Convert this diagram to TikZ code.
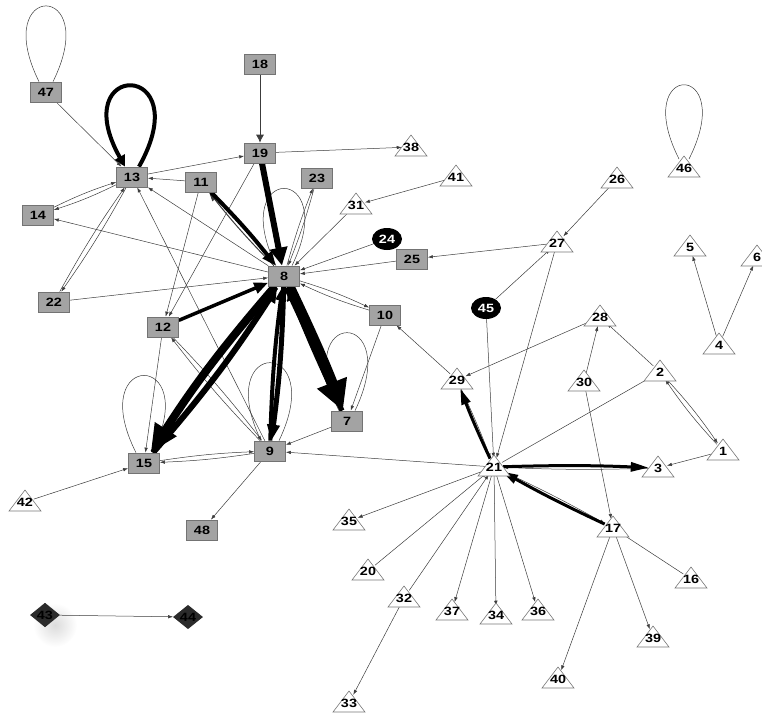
\documentclass[tikz,border=0pt]{standalone}
\usepackage{fontspec}
\newfontfamily\lblfont{Liberation Sans}[FakeStretch=1.2]
\usetikzlibrary{arrows.meta,shapes.geometric}
\pgfdeclarelayer{edgelayer}
\pgfdeclarelayer{trilayer}
\pgfsetlayers{edgelayer,trilayer,main}
\definecolor{sqfill}{RGB}{163,163,163}
\definecolor{sqdraw}{RGB}{115,115,115}
\definecolor{trdraw}{RGB}{120,120,120}
\definecolor{thin}{RGB}{60,60,60}
\begin{document}
\begin{tikzpicture}[x=1pt,y=-1pt,
  lbl/.style={font=\lblfont\bfseries\fontsize{12}{13}\selectfont},
  sq/.style={lbl,rectangle,draw=sqdraw,fill=sqfill,line width=0.7pt,minimum width=31pt,minimum height=20pt,inner sep=0pt},
  tri/.style={lbl,circle,minimum size=18pt,inner sep=0pt},
  trishape/.style={draw=trdraw,fill=white,line width=0.6pt,line join=miter},
  ell/.style={lbl,ellipse,fill=black,text=white,minimum width=30pt,minimum height=22pt,inner sep=0pt},
  dia/.style={lbl,diamond,fill=black!83,text=black,minimum width=30pt,minimum height=21pt,inner sep=0pt},
  edg/.style={draw=thin,line width=0.5pt,-{Latex[length=5pt,width=3.5pt]}},
  loopthin/.style={draw=thin,line width=0.5pt},
  heavy/.style={draw=black,line width=#1},
]
\useasboundingbox (0,0) rectangle (762,715);

% ---------- square nodes ----------
\node[sq] (47) at (46,92) {47};
\node[sq] (13) at (132,177) {13};
\node[sq] (14) at (38,215) {14};
\node[sq] (11) at (201,182) {11};
\node[sq] (18) at (260,64) {18};
\node[sq] (19) at (260,153) {19};
\node[sq] (23) at (317,178) {23};
\node[sq] (8) at (284,276) {8};
\node[sq] (22) at (54,302) {22};
\node[sq] (12) at (163,327) {12};
\node[sq] (25) at (412,259) {25};
\node[sq] (10) at (385,315) {10};
\node[sq] (7) at (347,421) {7};
\node[sq] (15) at (144,463) {15};
\node[sq] (9) at (270,451) {9};
\node[sq] (48) at (202,530) {48};

% ---------- triangle nodes ----------
\node[tri] (38) at (411,147) {38};
\node[tri] (41) at (456,177) {41};
\node[tri] (31) at (356,205) {31};
\node[tri] (26) at (617,179) {26};
\node[tri] (46) at (684,168) {46};
\node[tri] (27) at (557,243) {27};
\node[tri] (5) at (690,247) {5};
\node[tri] (6) at (757,257) {6};
\node[tri] (28) at (600,317) {28};
\node[tri] (4) at (719,345) {4};
\node[tri] (29) at (457,380) {29};
\node[tri] (30) at (584,382) {30};
\node[tri] (2) at (660,372) {2};
\node[tri] (1) at (723,451) {1};
\node[tri] (21) at (494,467) {21};
\node[tri] (3) at (658,468) {3};
\node[tri] (17) at (613,528) {17};
\node[tri] (35) at (349,521) {35};
\node[tri] (20) at (368,571) {20};
\node[tri] (16) at (691,579) {16};
\node[tri] (32) at (404,598) {32};
\node[tri] (37) at (452,611) {37};
\node[tri] (34) at (496,615) {34};
\node[tri] (36) at (538,611) {36};
\node[tri] (39) at (653,638) {39};
\node[tri] (40) at (558,679) {40};
\node[tri] (33) at (349,703) {33};
\node[tri] (42) at (25,502) {42};

% ---------- ellipse and diamond nodes ----------
\node[ell] (24) at (387,239) {24};
\node[ell] (45) at (486,308) {45};
\node[dia] (43) at (45,615) {43};
\node[dia] (44) at (188,617) {44};

\begin{pgfonlayer}{trilayer}
\foreach \n in {38,41,31,26,46,27,5,6,28,4,29,30,2,1,21,3,17,35,20,16,32,37,34,36,39,40,33,42}
  \draw[trishape] ([shift={(-16,9)}]\n.center) -- ([shift={(16,9)}]\n.center) -- ([shift={(0,-12)}]\n.center) -- cycle;
\end{pgfonlayer}

\begin{pgfonlayer}{edgelayer}
\shade[inner color=black!14,outer color=white] (55,625) circle (22pt);

% self loops
\draw[loopthin] ([xshift=-7pt]47.north) .. controls +(-50,-101) and +(50,-101) .. ([xshift=7pt]47.north);
\draw[heavy=4pt,-{Triangle[length=11pt,width=11pt]}] ([xshift=7pt]13.north) .. controls +(60,-107) and +(-60,-107) .. ([xshift=-7pt]13.north);
\draw[loopthin] ([xshift=-8pt]8.north) .. controls +(-50,-103) and +(50,-103) .. ([xshift=8pt]8.north);
\draw[loopthin] ([xshift=-8pt]7.north) .. controls +(-50,-104) and +(50,-104) .. ([xshift=8pt]7.north);
\draw[loopthin] ([xshift=-9pt]9.north) .. controls +(-50,-104) and +(50,-104) .. ([xshift=9pt]9.north);
\draw[loopthin] ([xshift=-8pt]15.north) .. controls +(-52,-103) and +(52,-103) .. ([xshift=8pt]15.north);
\draw[loopthin] ([shift={(-5,-9)}]46.center) .. controls +(-50,-99) and +(50,-99) .. ([shift={(5,-9)}]46.center);

% thin edges
\draw[edg] (47) -- (13);
\draw[edg,line width=0.7pt,-{Latex[length=8pt,width=8pt]}] (18) -- (19);
\draw[edg] (13) -- (19);
\draw[edg] (19) -- (38);
\draw[edg] (11) -- (13);
\draw[edg] (13) to[bend left=4] (14);
\draw[edg] (14) to[bend left=4] (13);
\draw[edg] (8) -- (14);
\draw[edg] (13) to[bend left=3] (22);
\draw[edg] (22) to[bend left=3] (13);
\draw[edg] (8) -- (13);
\draw[edg] (9) -- (13);
\draw[edg] (11) -- (12);
\draw[edg] (19) -- (12);
\draw[edg] (8) to[bend left=3] (23);
\draw[edg] (23) to[bend left=3] (8);
\draw[edg] (31) -- (8);
\draw[edg] (41) -- (31);
\draw[edg] (24) -- (8);
\draw[edg] (25) -- (8);
\draw[edg] (27) -- (25);
\draw[edg] (26) -- (27);
\draw[edg] (45) -- (27);
\draw[edg] (22) -- (8);
\draw[edg] (8) to[bend left=4] (10);
\draw[edg] (10) to[bend left=4] (8);
\draw[edg] (10) -- (7);
\draw[edg] (29) -- (10);
\draw[edg] (28) -- (29);
\draw[edg] (12) -- (15);
\draw[edg] (9) to[bend left=3] (12);
\draw[edg] (12) to[bend left=3] (9);
\draw[edg] (7) -- (9);
\draw[edg] (21) -- (9);
\draw[edg] (15) to[bend left=3] (9);
\draw[edg] (9) to[bend left=3] (15);
\draw[edg] (9) -- (48);
\draw[edg] (42) -- (15);
\draw[edg] (43) -- (44);
\draw[edg] (4) -- (5);
\draw[edg] (4) -- (6);
\draw[edg] (2) -- (28);
\draw[edg] (30) -- (28);
\draw[edg] (1) to[bend left=4] (2);
\draw[edg] (2) to[bend left=4] (1);
\draw[edg] (1) -- (3);
\draw[edg] (21) -- (2);
\draw[edg] (30) -- (17);
\draw[edg] (16) -- (17);
\draw[edg] (17) -- (39);
\draw[edg] (17) -- (40);
\draw[edg] (45) -- (21);
\draw[edg] (27) -- (21);
\draw[edg] (21) -- (35);
\draw[edg] (20) -- (21);
\draw[edg] (32) -- (21);
\draw[edg] (32) -- (33);
\draw[edg] (21) -- (37);
\draw[edg] (21) -- (34);
\draw[edg] (21) -- (36);

% heavy edges
\draw[heavy=6pt,-{Triangle[length=18pt,width=17pt]}] (19) -- (8);
\draw[edg,line width=1pt,-{Triangle[length=9pt,width=6pt]}] (8) to[bend left=3] (11);
\draw[heavy=4pt,-{Triangle[length=14pt,width=11pt]}] (11) to[bend left=3] (8);
\draw[heavy=3.5pt,-{Triangle[length=14pt,width=11pt]}] (12) -- (8);
\draw[heavy=8pt,-{Triangle[length=28pt,width=24pt]}] (8) to[bend right=4] (15);
\draw[heavy=6pt,-{Triangle[length=16pt,width=14pt]}] (15) to[bend right=4] (8);
\draw[heavy=5pt,-{Triangle[length=16pt,width=12pt]}] (8) to[bend left=3] (9);
\draw[heavy=4pt,-{Triangle[length=14pt,width=10pt]}] (9) to[bend left=3] (8);
\draw[heavy=11pt,-{Triangle[length=30pt,width=30pt]}] (8) to[bend left=2] (7);
\draw[heavy=5pt,-{Triangle[length=14pt,width=12pt]}] (7) to[bend left=2] (8);
\draw[edg] (3) to[bend left=2] (21);
\draw[heavy=3pt,-{Triangle[length=18pt,width=9pt]}] (21) to[bend left=2] (3);
\draw[edg] (21) to[bend left=2] (17);
\draw[heavy=3pt,-{Triangle[length=16pt,width=9pt]}] (17) to[bend left=2] (21);
\draw[edg] (29) to[bend left=2] (21);
\draw[heavy=3pt,-{Triangle[length=16pt,width=9pt]}] (21) to[bend left=2] (29);
\end{pgfonlayer}
\end{tikzpicture}
\end{document}
